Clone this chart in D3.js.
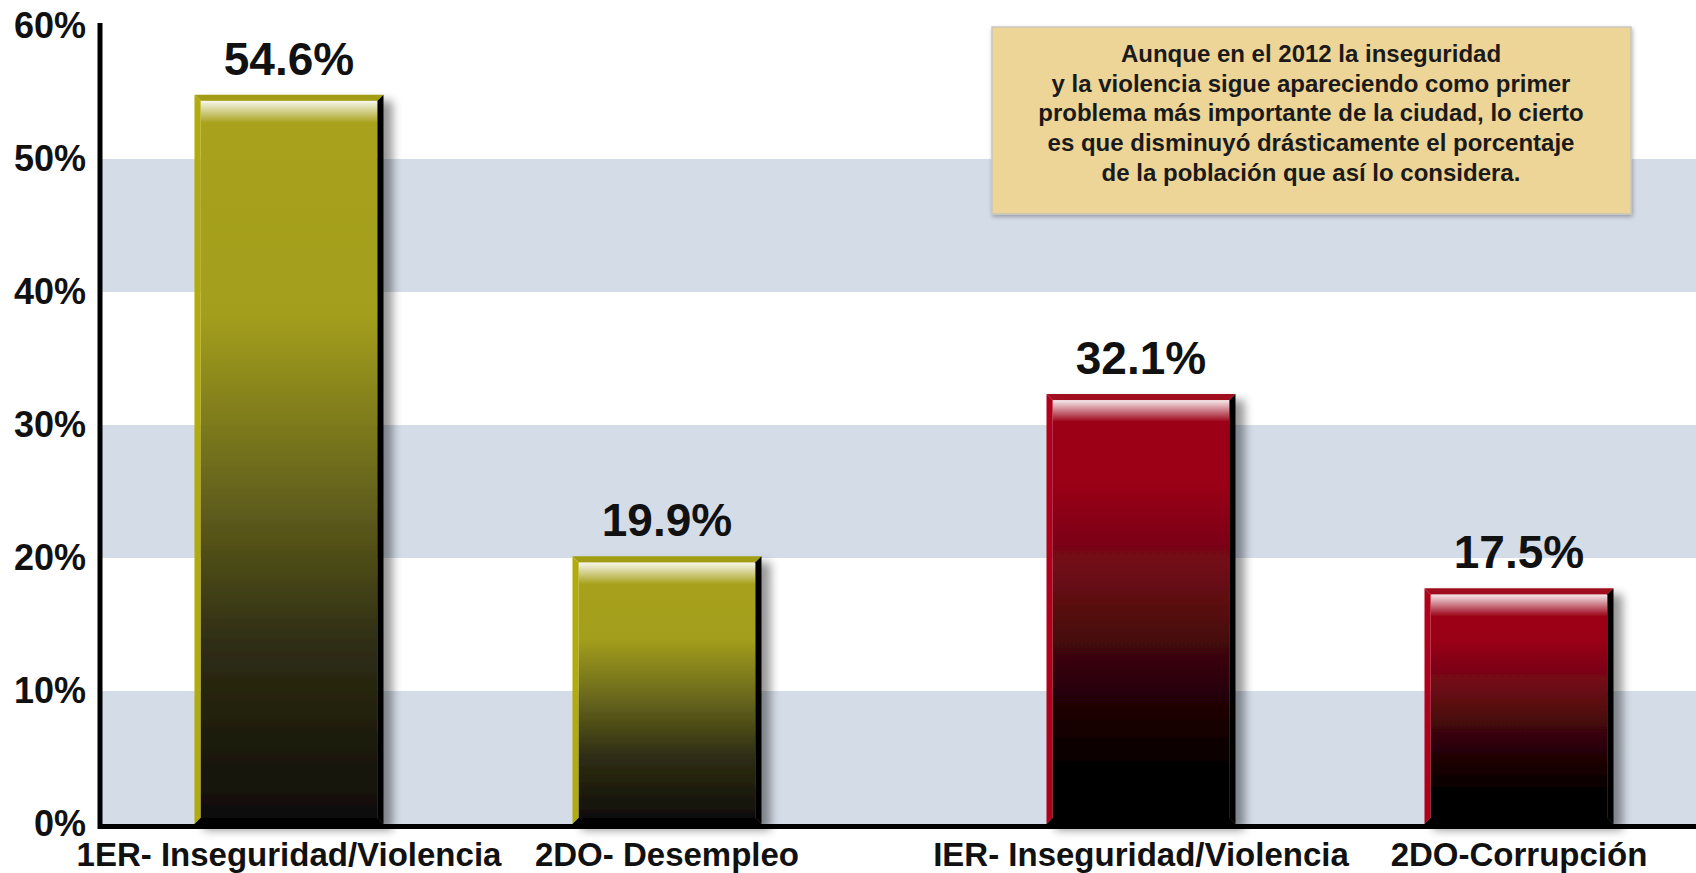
<!DOCTYPE html>
<html>
<head>
<meta charset="utf-8">
<script src="https://cdn.jsdelivr.net/npm/d3@7"></script>
<style>
  html, body { margin: 0; padding: 0; background: #ffffff; }
  svg { display: block; font-family: "Liberation Sans", Arial, Helvetica, sans-serif; }
</style>
</head>
<body>
<svg id="chart" width="1696" height="873"></svg>
<script>
// Problem ranking, two survey rounds
const groups = ["anterior", "2012"];
const categories = ["1ER- Inseguridad/Violencia", "2DO- Desempleo", "IER- Inseguridad/Violencia", "2DO-Corrupción"];
const categoryGroup = ["anterior", "anterior", "2012", "2012"];
const categoryRank = [0, 1, 0, 1];
const values = [54.6, 19.9, 32.1, 17.5];
const yTicks = [0, 10, 20, 30, 40, 50, 60];
const shadedBands = [[0, 10], [20, 30], [40, 50]];
const noteLines = [
  "Aunque en el 2012 la inseguridad",
  "y la violencia sigue apareciendo como primer",
  "problema más importante de la ciudad, lo cierto",
  "es que disminuyó drásticamente el porcentaje",
  "de la población que así lo considera."
];

const W = 1696, H = 873;
const svg = d3.select("#chart");

const y = d3.scaleLinear().domain([0, 60]).range([824, 26]);
const xGroup = d3.scaleBand().domain(groups).range([100, 1708]).paddingInner(0.1127).paddingOuter(0);
const xInner = d3.scaleBand().domain([0, 1]).range([0, xGroup.bandwidth()]).paddingInner(0.5).paddingOuter(0.25);

const barX = i => xGroup(categoryGroup[i]) + xInner(categoryRank[i]);
const bw = xInner.bandwidth();

// palette per group
const palette = {
  "anterior": { main: "#a8a21a", edgeTop: "#a39d14", edgeLeft: "#b2ab0c",
    stops: [[0, "#a8a21a"], [0.3, "#a39e1a"], [0.52, "#6c6a1c"], [0.75, "#302f14"], [1, "#0f0d07"]] },
  "2012": { main: "#9c0016", edgeTop: "#a00a1c", edgeLeft: "#b0001a",
    stops: [[0, "#9c0016"], [0.2, "#9a0016"], [0.45, "#650a12"], [0.7, "#260407"], [0.88, "#030000"], [1, "#000000"]] }
};

const defs = svg.append("defs");
groups.forEach((g, gi) => {
  const lg = defs.append("linearGradient").attr("id", "fill-" + gi)
    .attr("x1", 0).attr("y1", 0).attr("x2", 0).attr("y2", 1);
  palette[g].stops.forEach(s => lg.append("stop").attr("offset", s[0]).attr("stop-color", s[1]));
});
const hl = defs.append("linearGradient").attr("id", "shine").attr("x1", 0).attr("y1", 0).attr("x2", 0).attr("y2", 1);
hl.append("stop").attr("offset", 0).attr("stop-color", "#ffffff").attr("stop-opacity", 0.92);
hl.append("stop").attr("offset", 0.35).attr("stop-color", "#ffffff").attr("stop-opacity", 0.6);
hl.append("stop").attr("offset", 1).attr("stop-color", "#ffffff").attr("stop-opacity", 0);

const sh = defs.append("filter").attr("id", "shadow").attr("x", "-10%").attr("y", "-10%").attr("width", "130%").attr("height", "130%");
sh.append("feGaussianBlur").attr("in", "SourceAlpha").attr("stdDeviation", 5);
sh.append("feOffset").attr("dx", 9).attr("dy", 6).attr("result", "off");
sh.append("feComponentTransfer").append("feFuncA").attr("type", "linear").attr("slope", 0.42);
const mg = sh.append("feMerge");
mg.append("feMergeNode");
mg.append("feMergeNode").attr("in", "SourceGraphic");

const boxShadow = defs.append("filter").attr("id", "boxshadow").attr("x", "-5%").attr("y", "-5%").attr("width", "110%").attr("height", "115%");
boxShadow.append("feGaussianBlur").attr("in", "SourceAlpha").attr("stdDeviation", 2);
boxShadow.append("feOffset").attr("dx", 1).attr("dy", 2);
boxShadow.append("feComponentTransfer").append("feFuncA").attr("type", "linear").attr("slope", 0.3);
const mg2 = boxShadow.append("feMerge");
mg2.append("feMergeNode");
mg2.append("feMergeNode").attr("in", "SourceGraphic");

// horizontal shaded bands
svg.append("g").selectAll("rect").data(shadedBands).join("rect")
  .attr("x", 100).attr("width", W - 100)
  .attr("y", d => y(d[1])).attr("height", d => y(d[0]) - y(d[1]))
  .attr("fill", "#d4dce8");

// bevelled bars
const b = 6;
const bars = svg.append("g").selectAll("g").data(values).join("g")
  .attr("filter", "url(#shadow)");
bars.each(function (v, i) {
  const g = d3.select(this);
  const pal = palette[categoryGroup[i]];
  const gi = groups.indexOf(categoryGroup[i]);
  const x0 = barX(i), x1 = x0 + bw, y0 = y(v) - 3, y1 = y(0);
  const pts = a => a.map(p => p.join(",")).join(" ");
  g.append("rect").attr("x", x0 + b).attr("y", y0 + b).attr("width", bw - 2 * b).attr("height", y1 - y0 - 2 * b)
    .attr("fill", `url(#fill-${gi})`);
  g.append("rect").attr("x", x0 + b).attr("y", y0 + b).attr("width", bw - 2 * b).attr("height", 22)
    .attr("fill", "url(#shine)");
  g.append("polygon").attr("points", pts([[x0, y0], [x1, y0], [x1 - b, y0 + b], [x0 + b, y0 + b]])).attr("fill", pal.edgeTop);
  g.append("polygon").attr("points", pts([[x0, y0], [x0 + b, y0 + b], [x0 + b, y1 - b], [x0, y1]])).attr("fill", pal.edgeLeft);
  g.append("polygon").attr("points", pts([[x1, y0], [x1, y1], [x1 - b, y1 - b], [x1 - b, y0 + b]])).attr("fill", "#000000");
  g.append("polygon").attr("points", pts([[x0, y1], [x1, y1], [x1 - b, y1 - b], [x0 + b, y1 - b]])).attr("fill", "#000000");
});

// value labels
const fmt = d3.format(".1f");
svg.append("g").selectAll("text").data(values).join("text")
  .attr("x", (d, i) => barX(i) + bw / 2)
  .attr("y", d => y(d) - 23)
  .attr("text-anchor", "middle")
  .attr("font-size", 46).attr("font-weight", "bold").attr("fill", "#111")
  .text(d => fmt(d) + "%");

// axes
const yAxis = d3.axisLeft(y).tickValues(yTicks).tickSize(0).tickPadding(14).tickFormat(d => d + "%");
const ya = svg.append("g").attr("transform", "translate(100,0)").call(yAxis);
ya.select(".domain").remove();
ya.selectAll("text").attr("font-size", 36).attr("font-weight", "bold").attr("fill", "#111")
  .attr("font-family", "Liberation Sans, Arial, sans-serif");

svg.append("line").attr("x1", 100).attr("x2", 100).attr("y1", y(60) - 3).attr("y2", y(0) + 5)
  .attr("stroke", "#000").attr("stroke-width", 5);
svg.append("line").attr("x1", 98).attr("x2", W).attr("y1", y(0) + 2.5).attr("y2", y(0) + 2.5)
  .attr("stroke", "#000").attr("stroke-width", 5);

// category labels
svg.append("g").selectAll("text").data(categories).join("text")
  .attr("x", (d, i) => barX(i) + bw / 2)
  .attr("y", 866)
  .attr("text-anchor", "middle")
  .attr("font-size", 33).attr("font-weight", "bold").attr("fill", "#111")
  .text(d => d);

// note box
const note = svg.append("g");
note.append("rect").attr("x", 992).attr("y", 27).attr("width", 639).attr("height", 187)
  .attr("fill", "#edd497").attr("stroke", "#c9c6bd").attr("stroke-width", 1.5).attr("filter", "url(#boxshadow)");
note.append("g").selectAll("text").data(noteLines).join("text")
  .attr("x", 1311).attr("y", (d, i) => 62 + i * 29.7)
  .attr("text-anchor", "middle")
  .attr("font-size", 24).attr("font-weight", "bold").attr("fill", "#1a1a1a")
  .text(d => d);
</script>
</body>
</html>
